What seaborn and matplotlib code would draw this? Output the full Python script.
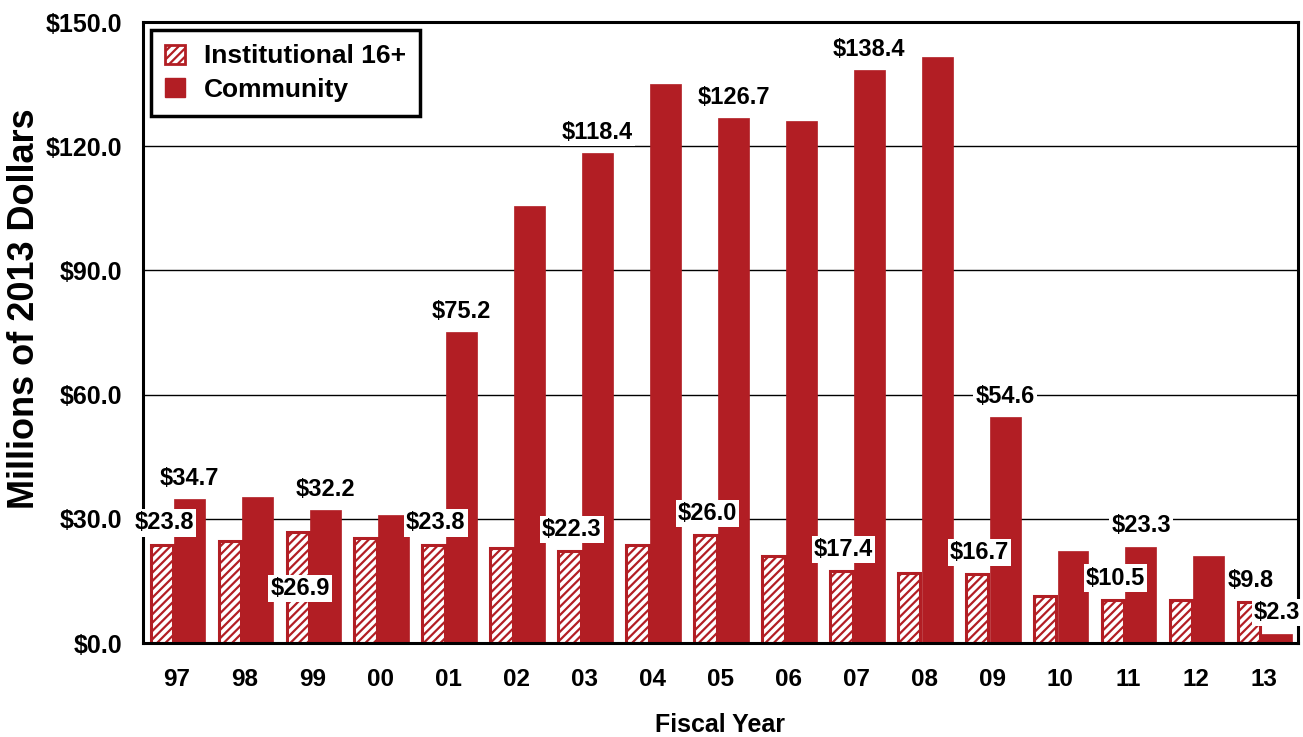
import numpy as np
import pandas as pd
import seaborn as sns
from matplotlib import pyplot as plt
from matplotlib.patches import Patch
from matplotlib.ticker import FixedLocator, FuncFormatter

# data
years = ["97", "98", "99", "00", "01", "02", "03", "04", "05",
         "06", "07", "08", "09", "10", "11", "12", "13"]
institutional = [23.8, 24.6, 26.9, 25.4, 23.8, 22.9, 22.3, 23.7, 26.0,
                 21.1, 17.4, 17.0, 16.7, 11.3, 10.5, 10.3, 9.8]
community = [34.7, 35.3, 32.2, 30.9, 75.2, 105.6, 118.4, 135.0, 126.7,
             126.0, 138.4, 141.6, 54.6, 22.3, 23.3, 21.1, 2.3]
labeled_years = ["97", "99", "01", "03", "05", "07", "09", "11", "13"]
series = ["Institutional 16+", "Community"]

red = "#B21E24"

sns.set_style("white")
plt.rcParams["font.family"] = ["Liberation Sans", "DejaVu Sans"]
plt.rcParams["font.weight"] = "bold"
plt.rcParams["hatch.linewidth"] = 1.6
for k in ["text.color", "axes.labelcolor", "xtick.color", "ytick.color"]:
    plt.rcParams[k] = "black"

df = pd.DataFrame({
    "Year": years * 2,
    "Series": [series[0]] * len(years) + [series[1]] * len(years),
    "Value": institutional + community,
})

fig = plt.figure(figsize=(13.03, 7.37), dpi=100)
ax = fig.add_axes([0.1097, 0.1275, 0.8865, 0.8426])

sns.barplot(data=df, x="Year", y="Value", hue="Series", hue_order=series,
            width=0.84, dodge=True, legend=False, ax=ax,
            palette=["white", red], saturation=1)

# reshape the dodged bars: hatched institutional bar, wider community bar overlapping it
for i, p in enumerate(ax.containers[0]):
    p.set_x(i - 0.387)
    p.set_width(0.33)
    p.set_facecolor("white")
    p.set_edgecolor(red)
    p.set_hatch("////")
    p.set_linewidth(2.2)
for i, p in enumerate(ax.containers[1]):
    p.set_x(i - 0.04)
    p.set_width(0.456)
    p.set_facecolor(red)
    p.set_edgecolor(red)
    p.set_linewidth(0.5)

# value labels
inst_dy = {"99": -13.7}
for i, y in enumerate(years):
    if y not in labeled_years:
        continue
    v = institutional[i]
    ax.text(i - 0.19, v + inst_dy.get(y, 5.2), f"${v:.1f}", ha="center", va="center",
            fontsize=17, fontweight="bold", zorder=5, clip_on=False,
            bbox=dict(facecolor="white", edgecolor="none", pad=1.5))
    v = community[i]
    ax.text(i + 0.19, v + 5.0, f"${v:.1f}", ha="center", va="center",
            fontsize=17, fontweight="bold", zorder=5, clip_on=False,
            bbox=dict(facecolor="white", edgecolor="none", pad=1.5))

ax.set_xlim(-0.5, len(years) - 0.5)
ax.set_ylim(0, 150)
ax.set_yticks(np.arange(0, 151, 30))
ax.yaxis.set_major_formatter(FuncFormatter(lambda v, _: f"${v:.1f}"))
ax.yaxis.grid(True, color="black", linewidth=1)
ax.set_axisbelow(True)

ax.xaxis.set_minor_locator(FixedLocator(np.arange(0.5, len(years) - 1, 1)))
ax.tick_params(axis="x", which="major", length=0, pad=18, labelsize=17.5)
ax.tick_params(axis="x", which="minor", direction="in", length=6, width=1, color="#555555")
ax.tick_params(axis="y", length=0, pad=15, labelsize=18)
for lab in ax.get_xticklabels() + ax.get_yticklabels():
    lab.set_fontweight("bold")

for s in ax.spines.values():
    s.set_visible(True)
    s.set_color("black")
    s.set_linewidth(2.2)

ax.set_xlabel("Fiscal Year", fontsize=18, fontweight="bold", labelpad=16)
ax.set_ylabel("Millions of 2013 Dollars", fontsize=26, fontweight="bold")
ax.yaxis.set_label_coords(-0.087, 0.538)

handles = [
    Patch(facecolor="white", edgecolor=red, hatch="////", linewidth=2.0, label=series[0]),
    Patch(facecolor=red, edgecolor=red, label=series[1]),
]
leg = ax.legend(handles=handles, loc="upper left", fontsize=19, frameon=True,
                fancybox=False, framealpha=1, edgecolor="black",
                borderaxespad=0.3, borderpad=0.55, labelspacing=0.35,
                handlelength=0.75, handleheight=0.75, handletextpad=0.7)
leg.get_frame().set_linewidth(2.5)
for t in leg.get_texts():
    t.set_fontweight("bold")

plt.savefig("out.png", dpi=100)
plt.close()
